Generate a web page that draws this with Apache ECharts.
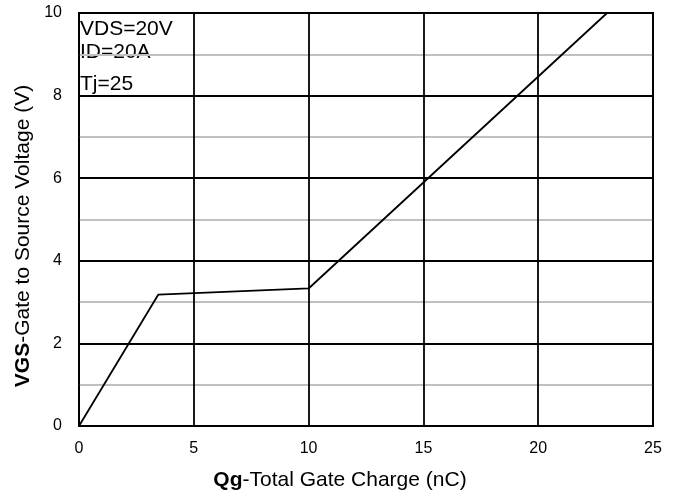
<!DOCTYPE html>
<html><head><meta charset="utf-8">
<script src="https://cdn.jsdelivr.net/npm/echarts@6/dist/echarts.min.js"></script>
<style>html,body{margin:0;padding:0;background:#fff}#c{width:683px;height:497px}</style>
</head><body><div id="c"></div>
<script>
const qg = [0, 3.45, 10, 23];
const vgs = [0, 3.18, 3.33, 10];
const xTicks = [0, 5, 10, 15, 20, 25];
const yTicks = [0, 2, 4, 6, 8, 10];
const notes = ['VDS=20V', 'ID=20A', 'Tj=25'];
const xTitle = ['Qg', '-Total Gate Charge (nC)'];
const yTitle = ['VGS', '-Gate to Source Voltage (V)'];

const chart = echarts.init(document.getElementById('c'));
const F = '"Liberation Sans", Arial, sans-serif';
const rich = {
  b: {fontFamily: F, fontSize: 21, fontWeight: 'bold', fill: '#000', color: '#000'},
  n: {fontFamily: F, fontSize: 21, fill: '#000', color: '#000'}
};
chart.setOption({
  animation: false,
  grid: {left: 79, right: 30, top: 13, bottom: 71, show: true, borderColor: '#000', borderWidth: 2, backgroundColor: 'transparent'},
  xAxis: {
    type: 'value', min: xTicks[0], max: xTicks[xTicks.length-1], interval: 5,
    axisLine: {show: false}, axisTick: {show: false},
    axisLabel: {color: '#000', fontFamily: F, fontSize: 16, margin: 15},
    splitLine: {show: true, lineStyle: {color: '#000', width: 1.8}}
  },
  yAxis: {
    type: 'value', min: yTicks[0], max: yTicks[yTicks.length-1], interval: 2,
    axisLine: {show: false}, axisTick: {show: false},
    axisLabel: {color: '#000', fontFamily: F, fontSize: 16, margin: 17},
    splitLine: {show: true, lineStyle: {color: '#000', width: 1.8}},
    minorTick: {show: false, splitNumber: 2},
    minorSplitLine: {show: true, lineStyle: {color: '#c0c0c0', width: 1.8}}
  },
  series: [{
    type: 'line', data: qg.map((x, i) => [x, vgs[i]]), symbol: 'none',
    lineStyle: {color: '#000', width: 1.8}
  }],
  graphic: [
    ...notes.map((t, i) => ({
      type: 'text', x: 80, y: [29, 52, 84][i],
      style: {text: t, font: '21px ' + F, fill: '#000', verticalAlign: 'middle', align: 'left'}
    })),
    {type: 'text', x: 340, y: 480,
     style: {text: '{b|' + xTitle[0] + '}{n|' + xTitle[1] + '}', rich: rich, align: 'center', verticalAlign: 'middle'}},
    {type: 'text', x: 23, y: 236, rotation: Math.PI / 2,
     style: {text: '{b|' + yTitle[0] + '}{n|' + yTitle[1] + '}', rich: rich, align: 'center', verticalAlign: 'middle'}}
  ]
});
</script></body></html>
